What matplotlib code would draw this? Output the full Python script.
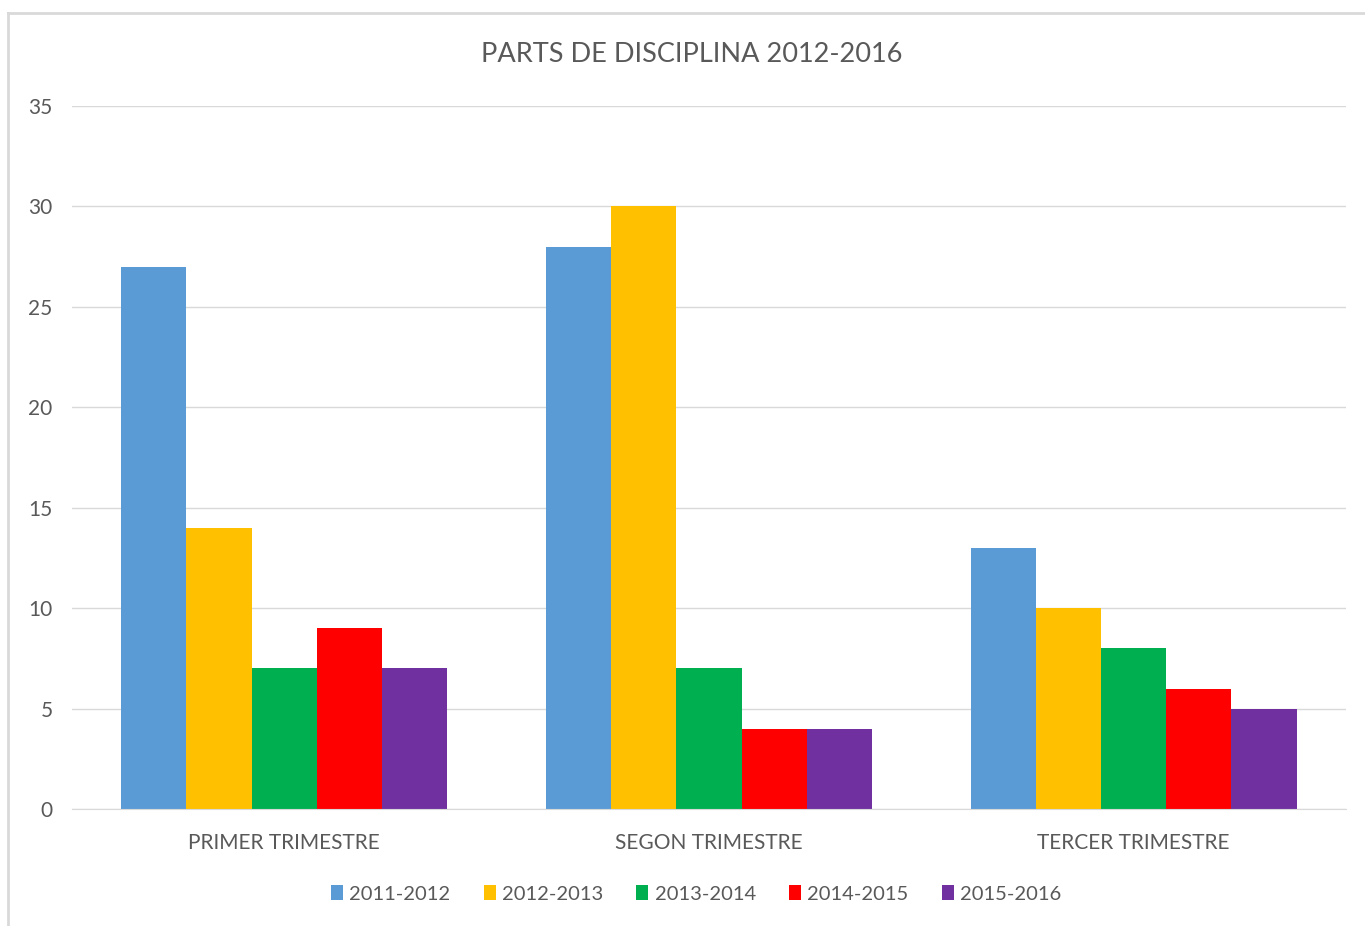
import matplotlib.pyplot as plt
import numpy as np

plt.rcParams['font.family'] = ['Lato', 'DejaVu Sans']

trimestres = ['PRIMER TRIMESTRE', 'SEGON TRIMESTRE', 'TERCER TRIMESTRE']
cursos = ['2011-2012', '2012-2013', '2013-2014', '2014-2015', '2015-2016']
colors = ['#5B9BD5', '#FFC000', '#00B050', '#FF0000', '#7030A0']

v2011 = [27, 28, 13]
v2012 = [14, 30, 10]
v2013 = [7, 7, 8]
v2014 = [9, 4, 6]
v2015 = [7, 4, 5]
values = [v2011, v2012, v2013, v2014, v2015]

txt = '#595959'

fig = plt.figure(figsize=(13.65, 9.26), dpi=100)
ax = fig.add_axes([0.0527, 0.1263, 0.9333, 0.7592])

# chart border (only left/top visible in the reference)
fig.add_artist(plt.Line2D([8/1365, 8/1365], [0, 1 - 13/926], color='#D9D9D9', lw=2, transform=fig.transFigure))
fig.add_artist(plt.Line2D([8/1365, 1], [1 - 13/926, 1 - 13/926], color='#D9D9D9', lw=2, transform=fig.transFigure))

x = np.arange(len(trimestres))
w = 0.1535
for i, (name, vals) in enumerate(zip(cursos, values)):
    ax.bar(x + (i - 2) * w, vals, w, color=colors[i], label=name, zorder=3)

ax.set_xlim(-0.5, 2.5)
ax.set_ylim(0, 35)
ax.set_yticks(range(0, 36, 5))
ax.grid(axis='y', color='#D9D9D9', lw=1, zorder=0)
for s in ['top', 'right', 'left']:
    ax.spines[s].set_visible(False)
ax.spines['bottom'].set_color('#D9D9D9')
ax.spines['bottom'].set_zorder(4)
ax.tick_params(axis='y', length=0, labelsize=15, colors=txt, pad=14)
ax.tick_params(axis='x', length=0, labelsize=15, colors=txt, pad=17)
ax.set_xticks(x)
ax.set_xticklabels(trimestres)

fig.text(0.507, 1 - 55/926, 'PARTS DE DISCIPLINA 2012-2016', ha='center', va='center',
         fontsize=19.5, color=txt)

fig.legend(loc='center', bbox_to_anchor=(0.51, 1 - 894/926), ncol=5, frameon=False,
           fontsize=14.5, labelcolor=txt, handlelength=0.6, handleheight=0.7,
           handletextpad=0.3, columnspacing=1.65)

fig.savefig('out.png', dpi=100)
